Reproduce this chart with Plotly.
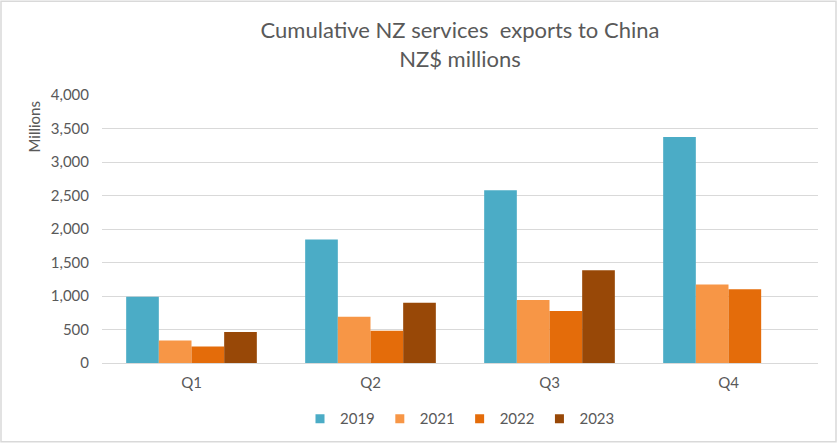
import plotly.graph_objects as go

quarters = ["Q1", "Q2", "Q3", "Q4"]
years = ["2019", "2021", "2022", "2023"]
v2019 = [990, 1845, 2580, 3375]
v2021 = [335, 690, 940, 1170]
v2022 = [245, 480, 775, 1100]
v2023 = [462, 900, 1385, None]
y_ticks = [0, 500, 1000, 1500, 2000, 2500, 3000, 3500, 4000]

COLORS = {"2019": "#4BACC6", "2021": "#F79646", "2022": "#E46C0A", "2023": "#984807"}
FONT = "Lato, 'Open Sans', sans-serif"
GREY = "#595959"

fig = go.Figure()
for yr, vals in zip(years, [v2019, v2021, v2022, v2023]):
    fig.add_trace(go.Bar(x=quarters, y=vals, name=yr, showlegend=False,
                         marker=dict(color=COLORS[yr], line=dict(width=0))))
# legend entries drawn as small squares, like the Excel legend
for yr in years:
    fig.add_trace(go.Scatter(x=[None], y=[None], mode="markers", name=yr,
                             marker=dict(symbol="square", size=9, color=COLORS[yr])))

fig.update_layout(
    width=839, height=446,
    paper_bgcolor="white", plot_bgcolor="white",
    font=dict(family=FONT, color=GREY, size=15),
    barmode="group", bargap=0.27, bargroupgap=0,
    margin=dict(l=102, r=21, t=95, b=82),
    title=dict(text="Cumulative NZ services  exports to China<br>NZ$ millions",
               x=0.5, xref="paper", xanchor="center",
               y=1 - 38 / 446, yanchor="top",
               font=dict(family=FONT, size=22, color=GREY)),
    legend=dict(orientation="h", x=0.5, xanchor="center", y=-0.204, yanchor="middle",
                font=dict(size=15, color=GREY), itemwidth=30,
                traceorder="normal"),
    showlegend=True,
)
fig.update_yaxes(range=[0, 4000], tickvals=y_ticks, tickformat=",",
                 showgrid=True, gridcolor="#D9D9D9", gridwidth=1,
                 zeroline=False, showline=False, ticks="", ticklen=0,
                 ticklabelstandoff=12,
                 tickfont=dict(size=15, color=GREY))
fig.update_xaxes(showline=True, linecolor="#D9D9D9", linewidth=1,
                 ticks="", ticklabelstandoff=6,
                 tickfont=dict(size=15, color=GREY))

fig.add_annotation(text="Millions", textangle=-90, xref="paper", yref="paper",
                   x=-0.095, y=0.985, xanchor="center", yanchor="top",
                   showarrow=False, font=dict(size=15, color=GREY))
# outer chart border
fig.add_shape(type="rect", xref="paper", yref="paper",
              x0=-101 / 716, x1=1 + 18 / 716, y0=-79 / 269, y1=1 + 94 / 269,
              line=dict(color="#D9D9D9", width=1.5), fillcolor="rgba(0,0,0,0)")

fig.write_html("out.html", config={"displayModeBar": False},
               post_script="document.body.style.margin='0';document.body.style.padding='0';")
